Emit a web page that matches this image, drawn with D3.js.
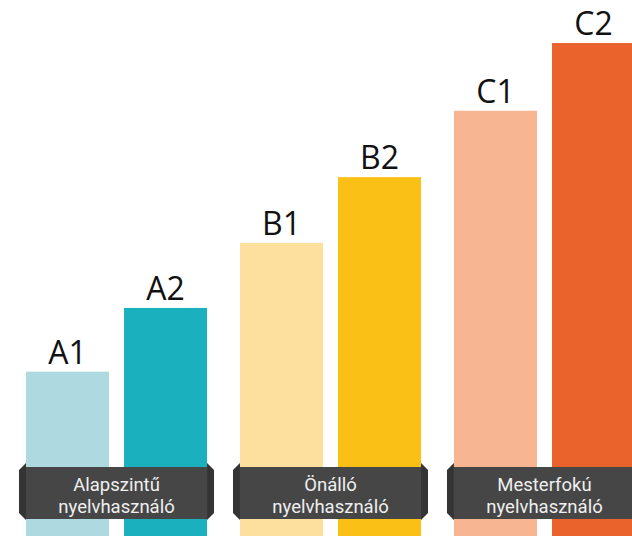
<!DOCTYPE html>
<html>
<head>
<meta charset="utf-8">
<script src="https://cdn.jsdelivr.net/npm/d3@7"></script>
<style>
  html, body { margin: 0; padding: 0; background: #fff; }
  svg { display: block; }
</style>
</head>
<body>
<svg id="chart" width="632" height="536"></svg>
<script>
// ---- data ----
const groups = ["A", "B", "C"];
const groupLabels = [["Alapszintű", "nyelvhasználó"], ["Önálló", "nyelvhasználó"], ["Mesterfokú", "nyelvhasználó"]];
const levels = ["A1", "A2", "B1", "B2", "C1", "C2"];
const levelGroup = ["A", "A", "B", "B", "C", "C"];
const values = [2.5, 3.47, 4.46, 5.46, 6.47, 7.5];
const colors = ["#afd9e0", "#1ab0be", "#fddf9e", "#fbc016", "#f7b691", "#ea622c"];

(function () {
const W = 632, H = 536;
const svg = d3.select("#chart");

const xGroup = d3.scaleBand().domain(groups).range([26, 635]).paddingInner(0.154).paddingOuter(0);
const xInner = d3.scaleBand().domain([0, 1]).range([0, xGroup.bandwidth()]).paddingInner(0.153).paddingOuter(0);
const y = d3.scaleLinear().domain([0, 8.155]).range([H, 0]);

const data = levels.map((l, i) => ({
  level: l, group: levelGroup[i], value: values[i], color: colors[i],
  idx: levelGroup.slice(0, i).filter(g => g === levelGroup[i]).length
}));

const barX = d => xGroup(d.group) + xInner(d.idx);

svg.append("g").selectAll("rect").data(data).join("rect")
  .attr("x", barX)
  .attr("y", d => y(d.value))
  .attr("width", xInner.bandwidth())
  .attr("height", d => H - y(d.value))
  .attr("fill", d => d.color);

svg.append("g").selectAll("text").data(data).join("text")
  .attr("x", d => barX(d) + xInner.bandwidth() / 2)
  .attr("y", d => y(d.value) - 8)
  .attr("text-anchor", "middle")
  .attr("font-family", "'Open Sans', sans-serif")
  .attr("font-size", 32)
  .attr("fill", "#111")
  .text(d => d.level);

const boxTop = 467, boxBottom = 519, capW = 7;
const gl = svg.append("g").selectAll("g").data(groups).join("g");

gl.append("path")
  .attr("d", g => {
    const x0 = xGroup(g), x1 = xGroup(g) + xGroup.bandwidth();
    return `M${x0},463 L${x0 - capW},470 L${x0 - capW},513 L${x0},520 Z` +
           `M${x1},463 L${x1 + capW},470 L${x1 + capW},513 L${x1},520 Z`;
  })
  .attr("fill", "#343434");

gl.append("rect")
  .attr("x", g => xGroup(g))
  .attr("y", boxTop)
  .attr("width", xGroup.bandwidth())
  .attr("height", boxBottom - boxTop)
  .attr("fill", "#464646");

gl.each(function (g, i) {
  const t = d3.select(this).append("text")
    .attr("text-anchor", "middle")
    .attr("font-family", "Roboto, sans-serif")
    .attr("font-size", 18.5)
    .attr("fill", "#efefef");
  groupLabels[i].forEach((line, j) => {
    t.append("tspan")
      .attr("x", xGroup(g) + xGroup.bandwidth() / 2)
      .attr("y", 491 + j * 22)
      .text(line);
  });
});
})();
</script>
</body>
</html>
